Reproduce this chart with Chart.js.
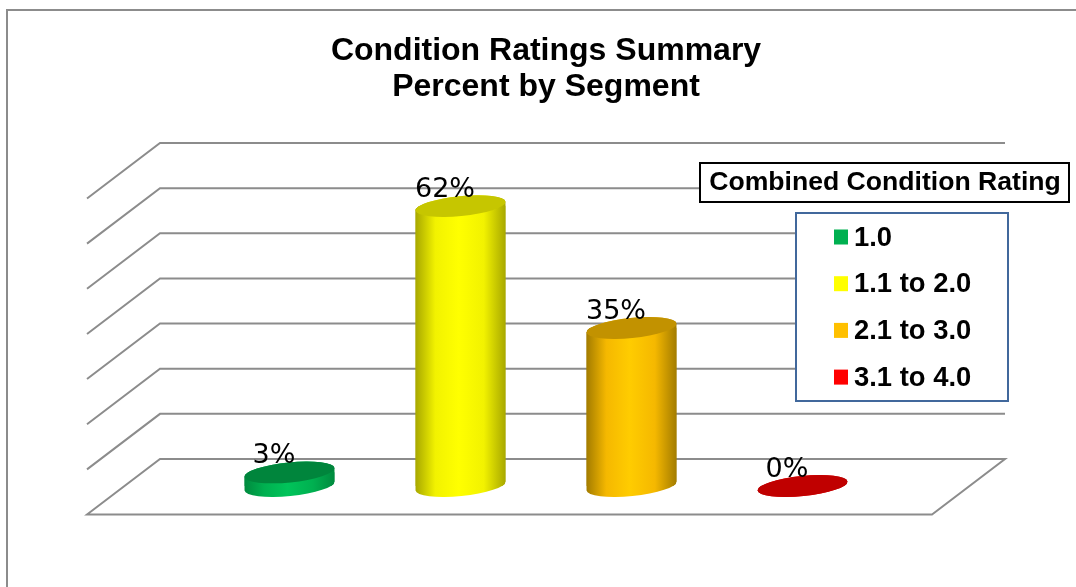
<!DOCTYPE html>
<html>
<head>
<meta charset="utf-8">
<style>
  html, body { margin: 0; padding: 0; background: #fff; overflow: hidden; }
  canvas { display: block; }
</style>
<script src="https://cdn.jsdelivr.net/npm/chart.js@4/dist/chart.umd.min.js"></script>
</head>
<body>
<canvas id="chart" width="1076" height="587"></canvas>
<script>
const titleLines = ['Condition Ratings Summary', 'Percent by Segment']
const legendTitle = 'Combined Condition Rating'
const categories = ['1.0', '1.1 to 2.0', '2.1 to 3.0', '3.1 to 4.0']
const percentValues = [3, 62, 35, 0]
const yTicks = [0, 10, 20, 30, 40, 50, 60, 70]

const swatchColors = ['#00B050', '#FFFF00', '#FFC000', '#FF0000']
const capColors = ['#00853C', '#C6C600', '#C29200', '#C00000']
const edgeColors = ['#008A3E', '#A8A800', '#A37C00', '#A00000']
const midColors = ['#00B050', '#F2F200', '#F5B800', '#F00000']
const glowColors = ['#00C45A', '#FFFF00', '#FFCC00', '#FF0000']

const gridColor = '#8C8C8C'
const fontFamily = '"Liberation Sans", Arial, sans-serif'

// depth of the fake 3d box, measured from the plane the bars stand on
const backInset = 44
const backRise = 27
const depthX = 73
const depthY = 55.5
const capTilt = (-5.7 * Math.PI) / 180
const capRx = 45.2
const capRy = 10

function sideGradient(c, i) {
  const area = c.chart.chartArea
  if (!area) return swatchColors[i]
  const x = c.chart.scales.x.getPixelForValue(i)
  const g = c.chart.ctx.createLinearGradient(x - 45, 0, x + 45, 0)
  g.addColorStop(0, edgeColors[i])
  g.addColorStop(0.22, midColors[i])
  g.addColorStop(0.48, glowColors[i])
  g.addColorStop(0.76, midColors[i])
  g.addColorStop(1, edgeColors[i])
  return g
}

function cylinderPath(ctx, bar) {
  ctx.moveTo(bar.x - capRx * Math.cos(capTilt), bar.y - capRx * Math.sin(capTilt))
  ctx.ellipse(bar.x, bar.y, capRx, capRy, capTilt, Math.PI, 2 * Math.PI)
  ctx.ellipse(bar.x, bar.base, capRx, capRy, capTilt, 0, Math.PI)
  ctx.closePath()
}

const box3d = {
  id: 'box3d',
  beforeDatasetsDraw(chart) {
    const { ctx, scales } = chart
    const meta = chart.getDatasetMeta(0)
    const backLeft = scales.x.left - backInset
    const backRight = scales.x.right + depthX + backInset
    ctx.save()

    ctx.strokeStyle = gridColor
    ctx.lineWidth = 2
    ctx.beginPath()
    ctx.moveTo(7, 587)
    ctx.lineTo(7, 10)
    ctx.lineTo(1076, 10)
    ctx.stroke()

    yTicks.forEach((t) => {
      const y = scales.y.getPixelForValue(t) - backRise
      ctx.beginPath()
      ctx.moveTo(backLeft - depthX, y + depthY)
      ctx.lineTo(backLeft, y)
      ctx.lineTo(backRight, y)
      if (t === 0) {
        ctx.lineTo(backRight - depthX, y + depthY)
        ctx.closePath()
      }
      ctx.stroke()
    })

    meta.data.forEach((bar) => {
      ctx.fillStyle = bar.options.backgroundColor
      ctx.beginPath()
      cylinderPath(ctx, bar)
      ctx.fill()
    })
    ctx.restore()
  },
  beforeDatasetDraw(chart, args) {
    const { ctx } = chart
    ctx.save()
    ctx.beginPath()
    args.meta.data.forEach((bar) => {
      cylinderPath(ctx, bar)
    })
    ctx.clip()
  },
  afterDatasetDraw(chart) {
    chart.ctx.restore()
  },
  afterDatasetsDraw(chart) {
    const { ctx } = chart
    const meta = chart.getDatasetMeta(0)
    ctx.save()

    meta.data.forEach((bar, i) => {
      ctx.fillStyle = capColors[i]
      ctx.beginPath()
      ctx.ellipse(bar.x, bar.y, capRx, capRy, capTilt, 0, 2 * Math.PI)
      ctx.fill()
    })

    ctx.fillStyle = '#000'
    ctx.font = '27px "DejaVu Sans"'
    ctx.textAlign = 'center'
    ctx.textBaseline = 'alphabetic'
    meta.data.forEach((bar, i) => {
      ctx.fillText(percentValues[i] + '%', bar.x - 15.5, bar.y - 9)
    })

    // legend heading
    ctx.fillStyle = '#fff'
    ctx.strokeStyle = '#000'
    ctx.lineWidth = 2
    ctx.fillRect(700, 163, 369, 39)
    ctx.strokeRect(700, 163, 369, 39)
    ctx.fillStyle = '#000'
    ctx.font = 'bold 26.6px ' + fontFamily
    ctx.textAlign = 'center'
    ctx.textBaseline = 'middle'
    ctx.fillText(legendTitle, 885, 183)

    // legend box
    ctx.fillStyle = '#fff'
    ctx.strokeStyle = '#41689C'
    ctx.fillRect(796, 213, 212, 188)
    ctx.strokeRect(796, 213, 212, 188)
    ctx.font = 'bold 27.4px ' + fontFamily
    ctx.textAlign = 'left'
    categories.forEach((label, i) => {
      const y = 237 + i * 46.7
      ctx.fillStyle = swatchColors[i]
      ctx.fillRect(834, y - 7.5, 14, 15)
      ctx.fillStyle = '#000'
      ctx.fillText(label, 854, y + 1)
    })
    ctx.restore()
  },
}

new Chart(document.getElementById('chart'), {
  type: 'bar',
  data: {
    labels: categories,
    datasets: [
      {
        data: percentValues,
        barThickness: 90,
        borderWidth: 0,
        backgroundColor: (c) => sideGradient(c, c.dataIndex),
      },
    ],
  },
  options: {
    responsive: false,
    animation: false,
    layout: {
      padding: { left: 204, right: 188, top: 0, bottom: 101 },
    },
    scales: {
      x: { display: false, offset: true },
      y: { display: false, min: 0, max: 70 },
    },
    plugins: {
      legend: { display: false },
      tooltip: { enabled: false },
      title: {
        display: true,
        text: titleLines,
        fullSize: false,
        color: '#000',
        font: { family: fontFamily, size: 32, weight: 'bold', lineHeight: 1.125 },
        padding: { top: 33, bottom: 65 },
      },
    },
  },
  plugins: [box3d],
})
</script>
</body>
</html>
